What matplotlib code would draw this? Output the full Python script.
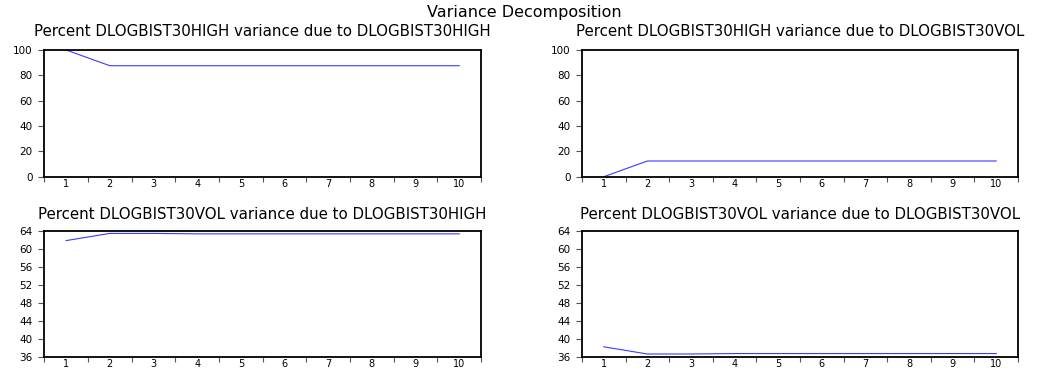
import matplotlib
matplotlib.use("Agg")
import matplotlib.pyplot as plt
import numpy as np

periods = [1, 2, 3, 4, 5, 6, 7, 8, 9, 10]
high_due_high = [100.0, 87.6, 87.6, 87.6, 87.6, 87.6, 87.6, 87.6, 87.6, 87.6]
high_due_vol = [0.0, 12.4, 12.4, 12.4, 12.4, 12.4, 12.4, 12.4, 12.4, 12.4]
vol_due_high = [61.8, 63.4, 63.4, 63.3, 63.3, 63.3, 63.3, 63.3, 63.3, 63.3]
vol_due_vol = [38.2, 36.6, 36.6, 36.7, 36.7, 36.7, 36.7, 36.7, 36.7, 36.7]

titles = [
    "Percent DLOGBIST30HIGH variance due to DLOGBIST30HIGH",
    "Percent DLOGBIST30HIGH variance due to DLOGBIST30VOL",
    "Percent DLOGBIST30VOL variance due to DLOGBIST30HIGH",
    "Percent DLOGBIST30VOL variance due to DLOGBIST30VOL",
]
series = [high_due_high, high_due_vol, vol_due_high, vol_due_vol]
yticks_top = [0, 20, 40, 60, 80, 100]
yticks_bot = [36, 40, 44, 48, 52, 56, 60, 64]

plt.rcParams['font.family'] = ['DejaVu Sans']

W, H = 1048, 370
fig = plt.figure(figsize=(W / 100, H / 100), dpi=100)

def box(l, r, t, b):
    return [l / W, 1 - b / H, (r - l) / W, (b - t) / H]

rects = [
    box(44.3, 481, 50, 176.7),
    box(582, 1018, 50, 176.7),
    box(44.3, 481, 230.7, 356.7),
    box(582, 1018, 230.7, 356.7),
]
title_y = [32, 32, 215, 215]

for i, (rect, title, vals) in enumerate(zip(rects, titles, series)):
    ax = fig.add_axes(rect)
    ax.plot(periods, vals, color='#3a3aff', lw=0.8)
    ax.set_xlim(0.5, 10.5)
    if i < 2:
        ax.set_ylim(0, 100)
        ax.set_yticks(yticks_top)
    else:
        ax.set_ylim(36, 64)
        ax.set_yticks(yticks_bot)
    ax.set_xticks(np.arange(0.5, 11, 1.0))
    ax.set_xticklabels([])
    ax.set_xticks(periods, minor=True)
    ax.set_xticklabels([str(p) for p in periods], minor=True)
    ax.tick_params(axis='x', which='major', direction='out', length=3.5, width=0.8, color='#555555')
    ax.tick_params(axis='x', which='minor', length=0, labelsize=7, pad=2)
    ax.tick_params(axis='y', direction='out', length=4.3, width=0.8, color='#555555',
                   labelsize=7.5, pad=4)
    for s in ax.spines.values():
        s.set_linewidth(1.3)
        s.set_color('black')
    cx = rect[0] + rect[2] / 2
    fig.text(cx, 1 - title_y[i] / H, title, ha='center', va='center', fontsize=10.8)

fig.text(0.5, 1 - 12 / H, "Variance Decomposition", ha='center', va='center', fontsize=11.5)

fig.savefig("out.png", dpi=100)
